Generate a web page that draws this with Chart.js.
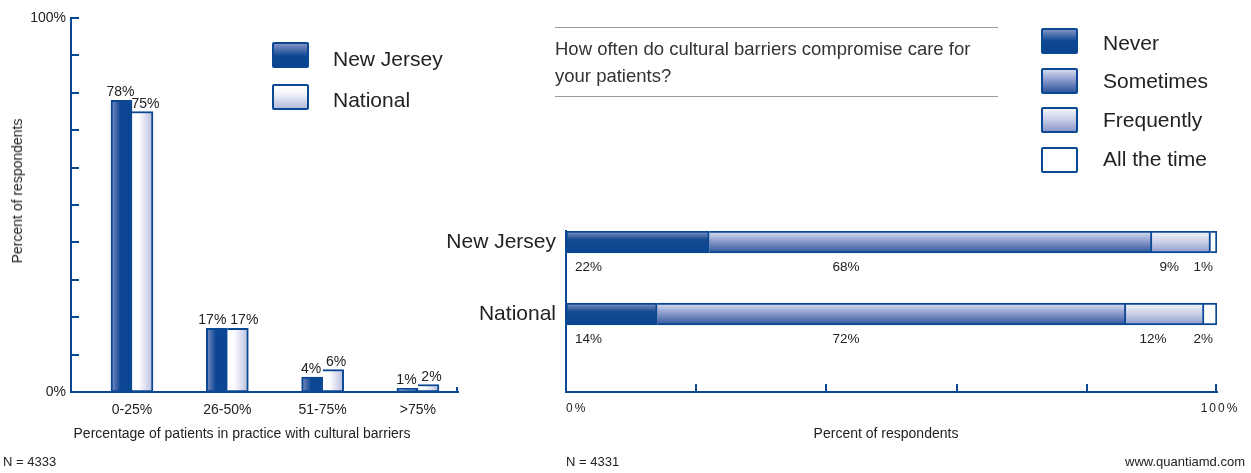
<!DOCTYPE html>
<html>
<head>
<meta charset="utf-8">
<script src="https://cdn.jsdelivr.net/npm/chart.js@4"></script>
<style>
body { margin: 0; background: #fff; }
#wrap { position: relative; width: 1251px; height: 473px; overflow: hidden; background: #fff;
        font-family: "Liberation Sans", Arial, sans-serif; color: #222; }
canvas { position: absolute; top: 0; }
.t { position: absolute; white-space: nowrap; }
.sw { position: absolute; width: 33px; height: 22px; border: 2px solid #0a4894; border-radius: 2px; }
.lg { position: absolute; font-size: 21px; line-height: 24px; white-space: nowrap; }
.rule { position: absolute; left: 555px; width: 443px; height: 1px; background: #9a9a9a; }
</style>
</head>
<body>
<div id="wrap">
  <canvas id="leftChart" width="470" height="473" style="left:0"></canvas>
  <canvas id="rightChart" width="811" height="473" style="left:440px"></canvas>

  <!-- left chart texts -->
  <div class="t" style="left:17px;top:191px;font-size:14px;line-height:16px;transform:translate(-50%,-50%) rotate(-90deg)">Percent of respondents</div>
  <div class="t" style="left:242px;top:425px;font-size:14px;line-height:16px;transform:translateX(-50%)">Percentage of patients in practice with cultural barriers</div>
  <div class="t" style="left:3px;top:454px;font-size:13px;line-height:15px">N = 4333</div>

  <div class="sw" style="left:272px;top:42px;background:linear-gradient(to bottom,#8292c4 0%,#0d4792 55%,#0a4491 100%)"></div>
  <div class="lg" style="left:333px;top:47px">New Jersey</div>
  <div class="sw" style="left:272px;top:84px;background:linear-gradient(to bottom,#ffffff 0%,#f4f5fb 35%,#b3bbdc 100%)"></div>
  <div class="lg" style="left:333px;top:88px">National</div>

  <!-- right chart texts -->
  <div class="rule" style="top:27px"></div>
  <div class="t" style="left:555px;top:35px;font-size:18.5px;line-height:27px;color:#333">How often do cultural barriers compromise care for<br>your patients?</div>
  <div class="rule" style="top:96px"></div>

  <div class="sw" style="left:1041px;top:28px;background:linear-gradient(to bottom,#7f91c4 0%,#0f4892 50%,#0a4491 100%)"></div>
  <div class="lg" style="left:1103px;top:31px">Never</div>
  <div class="sw" style="left:1041px;top:68px;background:linear-gradient(to bottom,#d3d9ee 0%,#8394c7 50%,#2f579e 100%)"></div>
  <div class="lg" style="left:1103px;top:69px">Sometimes</div>
  <div class="sw" style="left:1041px;top:107px;background:linear-gradient(to bottom,#f3f4fa 0%,#c6cce6 50%,#8a98ca 100%)"></div>
  <div class="lg" style="left:1103px;top:107.5px">Frequently</div>
  <div class="sw" style="left:1041px;top:147px;background:#fff"></div>
  <div class="lg" style="left:1103px;top:146.5px">All the time</div>

  <div class="t" style="left:886px;top:425px;font-size:14px;line-height:16px;transform:translateX(-50%)">Percent of respondents</div>
  <div class="t" style="left:566px;top:454px;font-size:13px;line-height:15px">N = 4331</div>
  <div class="t" style="right:6px;top:454px;font-size:13px;line-height:15px">www.quantiamd.com</div>
</div>

<script>
// Left chart: share of practice patients with cultural barriers
const barrierBands = ['0-25%', '26-50%', '51-75%', '>75%'];
const newJersey = [78, 17, 4, 1];
const national = [75, 17, 6, 2];
const leftTickValues = [0, 100];

// Right chart: how often barriers compromise care
const regions = ['New Jersey', 'National'];
const frequencies = ['Never', 'Sometimes', 'Frequently', 'All the time'];
const never = [22, 14];
const sometimes = [68, 72];
const frequently = [9, 12];
const allTheTime = [1, 2];
const rightTickValues = [0, 100];

const blue = '#0a4894';
const font = '"Liberation Sans", Arial, sans-serif';
Chart.defaults.font.family = font;
Chart.defaults.color = '#222';

function gradient(ctx, x0, y0, x1, y1, stops) {
    const g = ctx.createLinearGradient(x0, y0, x1, y1);
    stops.forEach(s => g.addColorStop(s[0], s[1]));
    return g;
}

// horizontal gradients for the column pairs
const leftStops = [
    [[0, '#8191c4'], [0.45, '#0d4793'], [1, '#0a4491']],
    [[0, '#ffffff'], [0.35, '#fbfbfe'], [1, '#b6bddd']]
];
const barW = 21;

function leftFill(d) {
    return function (c) {
        const chart = c.chart;
        const xs = chart.scales.x;
        if (c.type !== 'data' || !xs || !chart.chartArea) return leftStops[d][1][1];
        const mid = xs.getPixelForValue(c.raw.x);
        if (!isFinite(mid)) return leftStops[d][1][1];
        const x0 = d === 0 ? mid - barW : mid;
        return gradient(chart.ctx, x0, 0, x0 + barW, 0, leftStops[d]);
    };
}

const leftMarks = {
    id: 'leftMarks',
    afterDatasetsDraw(chart) {
        const {ctx, chartArea, scales: {y}} = chart;
        ctx.save();
        ctx.strokeStyle = blue;
        ctx.lineWidth = 2;
        ctx.beginPath();
        for (let v = 10; v <= 100; v += 10) {
            const py = Math.round(y.getPixelForValue(v));
            ctx.moveTo(chartArea.left, py);
            ctx.lineTo(chartArea.left + 8, py);
        }
        ctx.moveTo(chartArea.right - 1, chartArea.bottom);
        ctx.lineTo(chartArea.right - 1, chartArea.bottom - 5);
        ctx.stroke();

        // value labels, pushed apart when a pair would touch
        ctx.fillStyle = '#222';
        ctx.font = '14px ' + font;
        ctx.textAlign = 'center';
        ctx.textBaseline = 'alphabetic';
        const a = chart.getDatasetMeta(0).data;
        const b = chart.getDatasetMeta(1).data;
        a.forEach((barA, i) => {
            const barB = b[i];
            const tA = newJersey[i] + '%';
            const tB = national[i] + '%';
            let xA = barA.x - 1;
            let xB = barB.x + 3;
            if (Math.abs(barA.y - barB.y) < 6) {
                const gap = (xB - ctx.measureText(tB).width / 2) - (xA + ctx.measureText(tA).width / 2);
                if (gap < 4) {
                    xA -= (4 - gap) / 2;
                    xB += (4 - gap) / 2;
                }
            }
            ctx.fillText(tA, xA, barA.y - 4);
            ctx.fillText(tB, xB, barB.y - 4);
        });
        ctx.restore();
    }
};

new Chart(document.getElementById('leftChart'), {
    type: 'bar',
    data: {
        datasets: [newJersey, national].map((vals, d) => ({
            label: d === 0 ? 'New Jersey' : 'National',
            data: vals.map((v, i) => ({x: i, y: v})),
            backgroundColor: leftFill(d),
            borderColor: blue,
            borderWidth: 2,
            borderSkipped: d === 0 ? false : 'left',
            barThickness: barW
        }))
    },
    options: {
        responsive: false,
        animation: false,
        events: [],
        layout: {padding: {left: 0, top: 18, right: 12, bottom: 0}},
        plugins: {legend: {display: false}, tooltip: {enabled: false}},
        scales: {
            x: {
                type: 'linear',
                offset: false,
                min: -0.64,
                max: 3.42,
                grid: {display: false, drawTicks: false},
                border: {color: blue, width: 2},
                afterBuildTicks: s => { s.ticks = barrierBands.map((c, i) => ({value: i})); },
                ticks: {
                    autoSkip: false,
                    maxRotation: 0,
                    padding: 10,
                    font: {size: 14},
                    color: '#222',
                    callback: v => barrierBands[v]
                },
                afterFit: s => { s.height = 81; }
            },
            y: {
                min: 0,
                max: 100,
                grid: {display: false, drawTicks: false},
                border: {color: blue, width: 2},
                afterBuildTicks: s => { s.ticks = leftTickValues.map(v => ({value: v})); },
                ticks: {
                    padding: 5,
                    font: {size: 14},
                    color: '#222',
                    callback: v => v + '%'
                },
                afterFit: s => { s.width = 71; }
            }
        }
    },
    plugins: [leftMarks]
});

// vertical gradients for the stacked segments
const segStops = [
    [[0, '#8a9bcc'], [0.4, '#14498f'], [1, '#0a4491']],
    [[0, '#dde1f0'], [0.5, '#8596c8'], [1, '#2c559d']],
    [[0, '#f5f6fb'], [0.5, '#c9cfe7'], [1, '#8c99cb']],
    [[0, '#ffffff'], [1, '#ffffff']]
];
const segH = 22;

function segFill(d) {
    return function (c) {
        const chart = c.chart;
        const ys = chart.scales.y;
        if (c.type !== 'data' || !ys || !chart.chartArea) return segStops[d][1][1];
        const mid = ys.getPixelForValue(c.raw.y);
        if (!isFinite(mid)) return segStops[d][1][1];
        return gradient(chart.ctx, 0, mid - segH / 2, 0, mid + segH / 2, segStops[d]);
    };
}

const rightMarks = {
    id: 'rightMarks',
    afterDatasetsDraw(chart) {
        const {ctx, chartArea, scales: {x}} = chart;
        ctx.save();
        ctx.strokeStyle = blue;
        ctx.lineWidth = 2;
        ctx.beginPath();
        for (let v = 20; v <= 100; v += 20) {
            const px = Math.round(x.getPixelForValue(v)) - (v === 100 ? 1 : 0);
            ctx.moveTo(px, chartArea.bottom);
            ctx.lineTo(px, chartArea.bottom - 8);
        }
        ctx.stroke();

        // axis end labels
        ctx.fillStyle = '#222';
        ctx.font = '12px ' + font;
        ctx.letterSpacing = '2px';
        ctx.textBaseline = 'middle';
        ctx.textAlign = 'left';
        ctx.fillText(rightTickValues[0] + '%', x.getPixelForValue(rightTickValues[0]), chartArea.bottom + 17);
        ctx.textAlign = 'center';
        ctx.fillText(rightTickValues[1] + '%', x.getPixelForValue(rightTickValues[1]) + 3, chartArea.bottom + 17);
        ctx.letterSpacing = '0px';

        // segment value labels under each bar
        ctx.font = '13.5px ' + font;
        ctx.textBaseline = 'alphabetic';
        chart.data.datasets.forEach((ds, d) => {
            chart.getDatasetMeta(d).data.forEach((bar, i) => {
                const txt = ds.data[i].x + '%';
                const yy = bar.y + 29;
                if (d === 0) {
                    ctx.textAlign = 'left';
                    ctx.fillText(txt, bar.base + 9, yy);
                } else if (d === 1) {
                    ctx.textAlign = 'center';
                    ctx.fillText(txt, x.getPixelForValue(43), yy);
                } else if (d === 2) {
                    ctx.textAlign = 'center';
                    ctx.fillText(txt, (bar.base + bar.x) / 2 - 12, yy);
                } else {
                    ctx.textAlign = 'right';
                    ctx.fillText(txt, bar.x - 4, yy);
                }
            });
        });
        ctx.restore();
    }
};

new Chart(document.getElementById('rightChart'), {
    type: 'bar',
    data: {
        datasets: [never, sometimes, frequently, allTheTime].map((vals, d) => ({
            label: frequencies[d],
            data: vals.map((v, i) => ({x: v, y: i})),
            backgroundColor: segFill(d),
            borderColor: blue,
            borderWidth: 2,
            borderSkipped: d === 0 ? false : 'start',
            barThickness: segH
        }))
    },
    options: {
        indexAxis: 'y',
        responsive: false,
        animation: false,
        events: [],
        layout: {padding: {left: 0, top: 231, right: 34, bottom: 0}},
        plugins: {legend: {display: false}, tooltip: {enabled: false}},
        scales: {
            x: {
                stacked: true,
                min: 0,
                max: 100,
                grid: {display: false, drawTicks: false},
                border: {color: blue, width: 2},
                ticks: {display: false},
                afterFit: s => { s.height = 81; }
            },
            y: {
                type: 'linear',
                offset: false,
                stacked: true,
                reverse: true,
                min: -0.153,
                max: 2.083,
                grid: {display: false, drawTicks: false},
                border: {color: blue, width: 2},
                afterBuildTicks: s => { s.ticks = regions.map((r, i) => ({value: i})); },
                ticks: {
                    autoSkip: false,
                    padding: 10,
                    font: {size: 21},
                    color: '#222',
                    callback: v => regions[v]
                },
                afterFit: s => { s.width = 126; }
            }
        }
    },
    plugins: [rightMarks]
});
</script>
</body>
</html>
